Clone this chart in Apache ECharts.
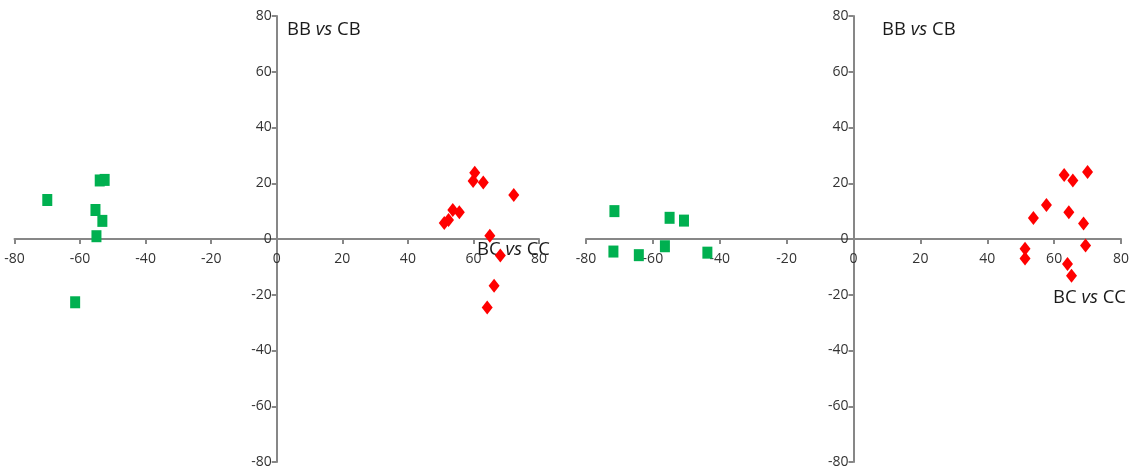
<!DOCTYPE html>
<html>
<head>
<meta charset="utf-8">
<style>
  html, body { margin: 0; padding: 0; background: #fff; }
  #chart { width: 1144px; height: 474px; }
</style>
<script src="https://cdn.jsdelivr.net/npm/echarts@6/dist/echarts.min.js"></script>
</head>
<body>
<div id="chart"></div>
<script>
// Panel 1: group scores
const leftGreen = [
  [-70, 14], [-55.3, 10.4], [-53.2, 6.5], [-55, 1],
  [-54, 21], [-52.5, 21.2], [-61.5, -22.7]
];
const leftRed = [
  [60.4, 23.8], [59.9, 20.8], [63, 20.3], [72.3, 15.8],
  [53.7, 10.4], [55.7, 9.6], [52.4, 6.8], [51.1, 5.7],
  [65, 1.2], [68.2, -5.9], [66.3, -16.8], [64.2, -24.6]
];
// Panel 2: group scores
const rightGreen = [
  [-71.5, 10], [-55, 7.6], [-50.7, 6.6], [-71.8, -4.5],
  [-64.2, -5.8], [-56.4, -2.6], [-43.7, -4.9]
];
const rightRed = [
  [63, 23], [65.6, 21], [70, 24], [57.7, 12.2],
  [53.8, 7.5], [64.4, 9.6], [68.8, 5.6], [69.4, -2.3],
  [51.3, -3.5], [51.3, -7], [64, -9], [65.2, -13.2]
];
const axisMin = -80, axisMax = 80, axisStep = 20;

const FONT = '"Open Sans", "Noto Sans", sans-serif';
const axisGray = '#878787';
const labelColor = '#333333';

// Plot boxes for the two panels
const boxes = [
  { left: 14.5, width: 524.5, top: 16, height: 446 },
  { left: 586, width: 535, top: 16, height: 446 }
];

// Axes cross at the middle of each box (the ranges are symmetric),
// so each axis is shifted inward by half the box size.
function valueAxis(gridIndex, isX) {
  const box = boxes[gridIndex];
  return {
    type: 'value',
    gridIndex: gridIndex,
    position: isX ? 'bottom' : 'left',
    offset: isX ? -box.height / 2 : -box.width / 2,
    min: axisMin, max: axisMax, interval: axisStep,
    axisLine: { show: true, onZero: false, lineStyle: { color: axisGray, width: 2 } },
    axisTick: { show: true, inside: false, length: 5, lineStyle: { color: axisGray, width: 2 } },
    splitLine: { show: false },
    axisLabel: {
      show: true, color: labelColor, fontFamily: FONT, fontSize: 14,
      margin: isX ? 13 : 5
    }
  };
}

function heading(text, x, y) {
  const parts = text.split(' vs ');
  return {
    type: 'text', left: x, top: y,
    style: {
      text: '{a|' + parts[0] + ' }{i|vs}{a| ' + parts[1] + '}',
      rich: {
        a: { fontFamily: FONT, fontSize: 18.5, fill: '#1a1a1a' },
        i: { fontFamily: FONT, fontSize: 18.5, fontStyle: 'italic', fill: '#1a1a1a' }
      }
    }
  };
}

const greenStyle = { color: '#00b050', opacity: 1 };
const redStyle = { color: '#ff0000', opacity: 1 };

const chart = echarts.init(document.getElementById('chart'), null, { renderer: 'canvas' });
chart.setOption({
  animation: false,
  backgroundColor: '#ffffff',
  grid: boxes.map(b => Object.assign({ outerBoundsMode: 'none', containLabel: false }, b)),
  xAxis: [valueAxis(0, true), valueAxis(1, true)],
  yAxis: [valueAxis(0, false), valueAxis(1, false)],
  series: [
    { type: 'scatter', xAxisIndex: 0, yAxisIndex: 0, data: leftGreen,
      symbol: 'rect', symbolSize: [10, 12], itemStyle: greenStyle },
    { type: 'scatter', xAxisIndex: 0, yAxisIndex: 0, data: leftRed,
      symbol: 'diamond', symbolSize: [11, 14], itemStyle: redStyle },
    { type: 'scatter', xAxisIndex: 1, yAxisIndex: 1, data: rightGreen,
      symbol: 'rect', symbolSize: [10, 12], itemStyle: greenStyle },
    { type: 'scatter', xAxisIndex: 1, yAxisIndex: 1, data: rightRed,
      symbol: 'diamond', symbolSize: [11, 14], itemStyle: redStyle }
  ],
  graphic: [
    heading('BB vs CB', 287, 20),
    heading('BC vs CC', 477, 240),
    heading('BB vs CB', 882, 20),
    heading('BC vs CC', 1053, 288)
  ]
});
</script>
</body>
</html>
